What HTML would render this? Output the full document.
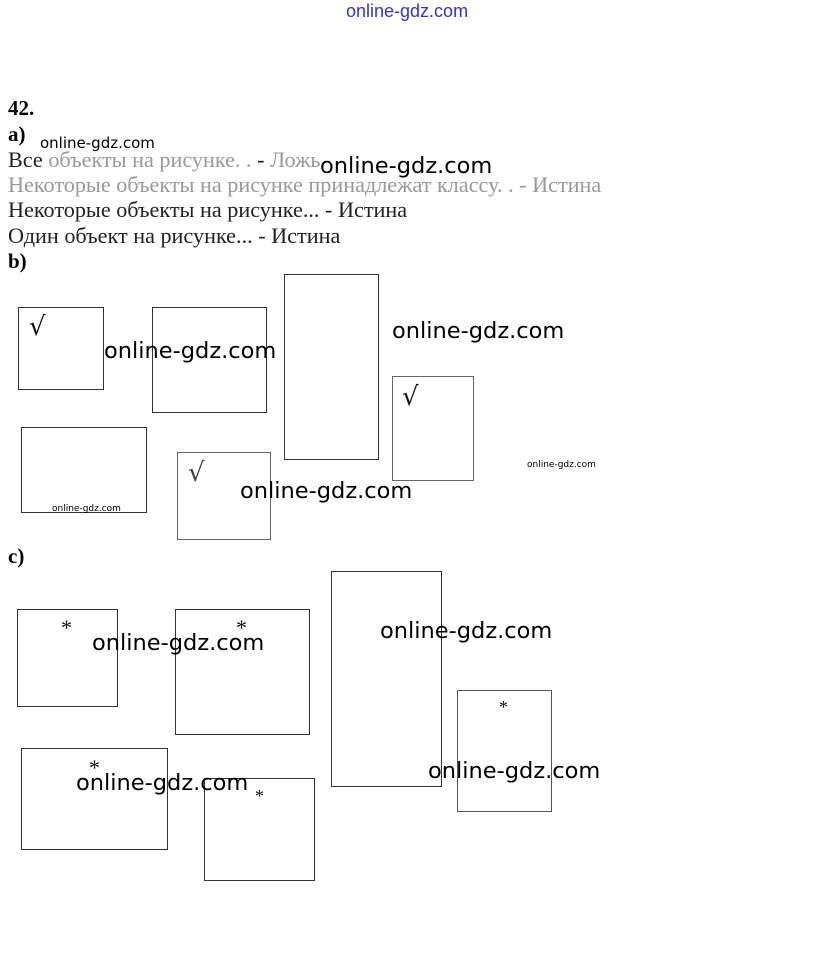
<!DOCTYPE html>
<html><head><meta charset="utf-8"><style>
html,body{margin:0;padding:0;background:#fff;width:815px;height:975px;overflow:hidden}
body{position:relative;font-family:"Liberation Serif",serif}
.t{position:absolute;white-space:nowrap;line-height:1}
.s{font-size:22.2px;color:#222}
.g{color:#999}
.w{position:absolute;white-space:nowrap;line-height:1;font-family:"DejaVu Sans","Liberation Sans",sans-serif;color:#000;font-size:22.5px}
.r{position:absolute;border:1px solid #333;box-sizing:border-box}
.ck{position:absolute;font-family:"DejaVu Sans",sans-serif;font-size:26px;line-height:1;color:#111}
.as{position:absolute;font-family:"Liberation Serif",serif;font-size:22px;line-height:1;color:#111}
</style></head><body>
<div class="t" style="left:346px;top:2px;font-family:'Liberation Sans',sans-serif;font-size:18px;color:#3333cc">online-gdz.com</div>

<div class="t" style="left:8px;top:98px;font-size:21px;font-weight:bold">42.</div>
<div class="t" style="left:8px;top:124px;font-size:21px;font-weight:bold">a)</div>
<div class="w" style="left:40px;top:136px;font-size:15px">online-gdz.com</div>
<div class="t s" style="left:8px;top:149px">Все <span class="g">объекты на рисунке. .</span> - <span class="g">Ложь</span></div>
<div class="w" style="left:320px;top:155px">online-gdz.com</div>
<div class="t s g" style="left:8px;top:174px">Некоторые объекты на рисунке принадлежат классу. . - Истина</div>
<div class="t s" style="left:8px;top:199px">Некоторые объекты на рисунке... - Истина</div>
<div class="t s" style="left:8px;top:225px">Один объект на рисунке... - Истина</div>
<div class="t" style="left:8px;top:251px;font-size:21px;font-weight:bold">b)</div>

<div class="r" style="left:18px;top:307px;width:86px;height:83px"></div>
<div class="ck" style="left:29px;top:314px">√</div>
<div class="r" style="left:152px;top:307px;width:115px;height:106px"></div>
<div class="r" style="left:284px;top:274px;width:95px;height:186px"></div>
<div class="r" style="left:392px;top:376px;width:82px;height:105px;border-color:#666"></div>
<div class="ck" style="left:402px;top:384px">√</div>
<div class="r" style="left:21px;top:427px;width:126px;height:86px"></div>
<div class="r" style="left:177px;top:452px;width:94px;height:88px;border-color:#666"></div>
<div class="ck" style="left:188px;top:460px;color:#444">√</div>
<div class="w" style="left:104px;top:340px">online-gdz.com</div>
<div class="w" style="left:392px;top:320px">online-gdz.com</div>
<div class="w" style="left:527px;top:461px;font-size:9px">online-gdz.com</div>
<div class="w" style="left:52px;top:505px;font-size:9px">online-gdz.com</div>
<div class="w" style="left:240px;top:480px">online-gdz.com</div>

<div class="t" style="left:8px;top:546px;font-size:21px;font-weight:bold">c)</div>
<div class="r" style="left:17px;top:609px;width:101px;height:98px"></div>
<div class="as" style="left:61px;top:617px">*</div>
<div class="r" style="left:175px;top:609px;width:135px;height:126px"></div>
<div class="as" style="left:236px;top:617px">*</div>
<div class="r" style="left:331px;top:571px;width:111px;height:216px"></div>
<div class="r" style="left:457px;top:690px;width:95px;height:122px;border-color:#555"></div>
<div class="as" style="left:499px;top:698px;font-size:18px">*</div>
<div class="r" style="left:21px;top:748px;width:147px;height:102px"></div>
<div class="as" style="left:89px;top:757px">*</div>
<div class="r" style="left:204px;top:778px;width:111px;height:103px"></div>
<div class="as" style="left:255px;top:787px;font-size:18px">*</div>
<div class="w" style="left:92px;top:632px">online-gdz.com</div>
<div class="w" style="left:380px;top:620px">online-gdz.com</div>
<div class="w" style="left:428px;top:760px">online-gdz.com</div>
<div class="w" style="left:76px;top:772px">online-gdz.com</div>
</body></html>
